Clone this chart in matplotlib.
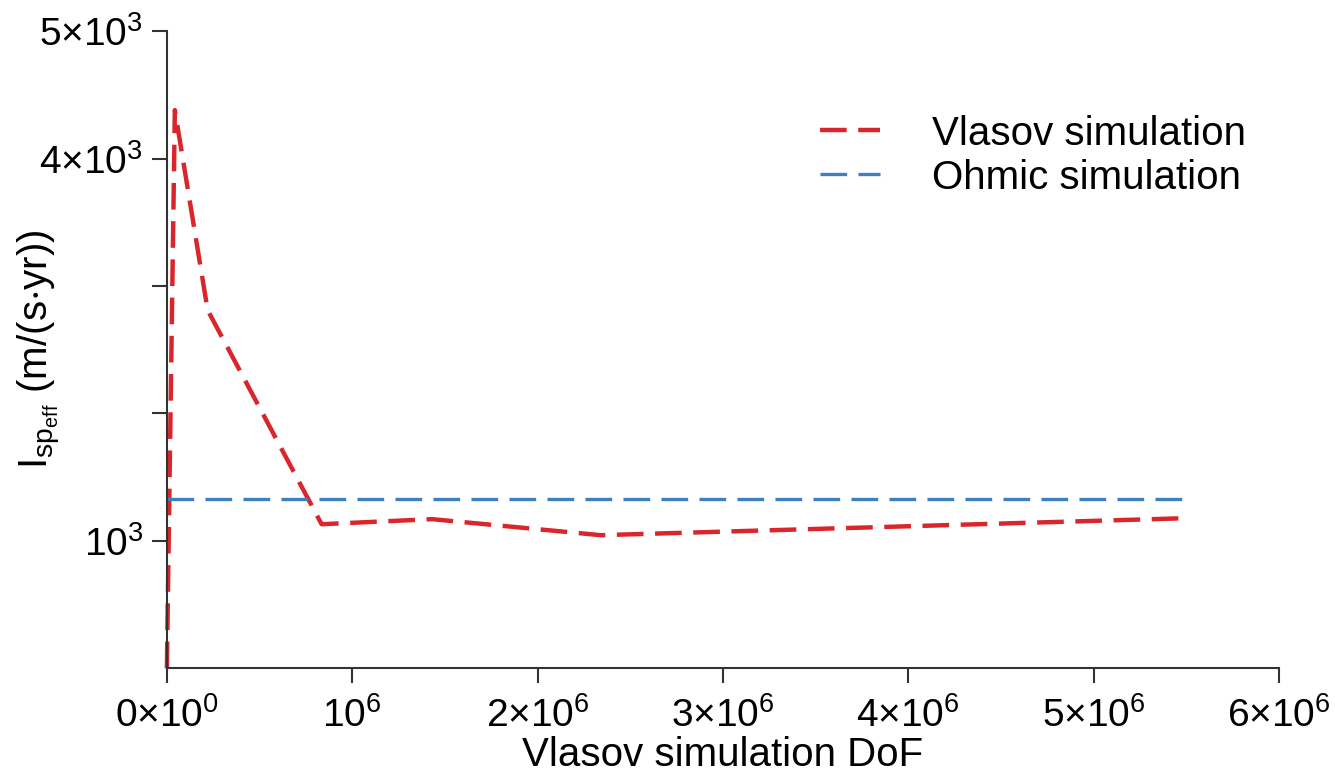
import numpy as np
import matplotlib.pyplot as plt

plt.rcParams['font.family'] = ['Liberation Sans', 'DejaVu Sans']
plt.rcParams['mathtext.fontset'] = 'custom'
plt.rcParams['mathtext.rm'] = 'Liberation Sans'
plt.rcParams['mathtext.it'] = 'Liberation Sans'

# Vlasov simulation
vlasov_dof = [0, 0.043e6, 0.22e6, 0.835e6, 1.43e6, 2.34e6, 5.49e6]
vlasov_isp = [0, 4380, 2810, 1130, 1170, 1044, 1177]

# Ohmic simulation, constant level
ohmic_dof = [0, 5.49e6]
ohmic_isp = [1327, 1327]

xticks = [0, 1e6, 2e6, 3e6, 4e6, 5e6, 6e6]
xticklabels = [r'$\mathregular{0{\times}10^{0}}$', r'$\mathregular{10^{6}}$',
               r'$\mathregular{2{\times}10^{6}}$', r'$\mathregular{3{\times}10^{6}}$',
               r'$\mathregular{4{\times}10^{6}}$', r'$\mathregular{5{\times}10^{6}}$',
               r'$\mathregular{6{\times}10^{6}}$']
yticks = [1000, 2000, 3000, 4000, 5000]
yticklabels = [r'$\mathregular{10^{3}}$', '', '',
               r'$\mathregular{4{\times}10^{3}}$', r'$\mathregular{5{\times}10^{3}}$']

fig = plt.figure(figsize=(13.35, 7.77), dpi=100)
ax = fig.add_axes([0.125, 0.140, 0.833, 0.820])

ax.plot(vlasov_dof, vlasov_isp, color='#d9262c', lw=3.2, dashes=(6, 2.6),
        dash_joinstyle='round', label='Vlasov simulation', clip_on=False)
ax.plot(ohmic_dof, ohmic_isp, color='#3c80c0', lw=2.4, dashes=(8, 3.4),
        label='Ohmic simulation')

ax.set_xlim(0, 6e6)
ax.set_ylim(0, 5000)
ax.set_xticks(xticks)
ax.set_xticklabels(xticklabels)
ax.set_yticks(yticks)
ax.set_yticklabels(yticklabels)

for s in ['top', 'right']:
    ax.spines[s].set_visible(False)
for s in ['left', 'bottom']:
    ax.spines[s].set_color('#333333')
    ax.spines[s].set_linewidth(1.5)
ax.tick_params(direction='out', length=11, width=1.5, color='#333333',
               labelsize=28, pad=6)
ax.tick_params(axis='x', pad=10)

ax.set_xlabel('Vlasov simulation DoF', fontsize=29, va='baseline')
ax.xaxis.set_label_coords(0.5, -0.154)
ax.set_ylabel(r'$\mathregular{I_{sp_{eff}}}$ (m/(s$\mathregular{\cdot}$yr))', fontsize=29)
ax.yaxis.set_label_coords(-0.093, 0.5)

ax.legend(loc='upper left', bbox_to_anchor=(0.587, 0.869), frameon=False,
          borderaxespad=0, borderpad=0,
          fontsize=29, handlelength=1.5, handletextpad=1.3, labelspacing=0.15)

fig.savefig('out.png', dpi=100)
